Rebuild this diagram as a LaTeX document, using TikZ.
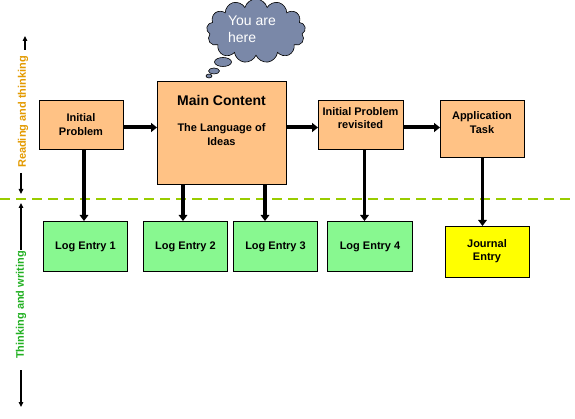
\documentclass[tikz,border=0pt]{standalone}
\usepackage{fontspec}
\setmainfont{Liberation Sans}
\usetikzlibrary{shapes.symbols,shapes.geometric,arrows.meta}
\definecolor{peach}{HTML}{FFC285}
\definecolor{lgreen}{HTML}{88F890}
\definecolor{jyellow}{HTML}{FFFF00}
\definecolor{cloudc}{HTML}{7A88A8}
\definecolor{otext}{HTML}{E39A00}
\definecolor{gtext}{HTML}{22B022}
\definecolor{dline}{HTML}{99CC00}
\tikzset{
  box/.style={draw=black, line width=1pt, inner sep=0pt, anchor=north west},
  obox/.style={box, fill=peach},
  gbox/.style={box, fill=lgreen, minimum width=84pt, minimum height=50pt, font=\bfseries\fontsize{11}{13}\selectfont},
  lbl/.style={align=center, inner sep=0pt, font=\bfseries\fontsize{11}{13.5}\selectfont},
  harrow/.style={line width=4pt, -{Triangle[length=6pt,width=9pt]}},
  varrow/.style={line width=3.5pt, -{Triangle[length=6pt,width=8.5pt]}},
  sarrow/.style={line width=1.2pt, -{Triangle[length=5pt,width=4.5pt]}},
  dashline/.style={draw=dline, line width=2pt, dash pattern=on 10pt off 6pt},
  bubble/.style={ellipse, draw=black, line width=0.6pt, fill=cloudc, inner sep=0pt}
}
\begin{document}
\begin{tikzpicture}[x=1pt,y=-1pt]
\useasboundingbox (0,0) rectangle (575,419);
% dashed divider
\coordinate (d1) at (0,199);
\coordinate (d2) at (575,199);
\draw[dashline] (d1) -- (d2);
% cloud
\node[cloud, cloud puffs=13, aspect=1.6, draw=black, line width=0.6pt, fill=cloudc, minimum width=99pt, minimum height=64pt, inner sep=0pt] (cl) at (256,31) {};
\node[bubble, minimum width=17pt, minimum height=9pt] (b1) at (223,62) {};
\node[bubble, minimum width=11pt, minimum height=6pt] (b2) at (214,71) {};
\node[bubble, minimum width=6pt, minimum height=4pt] (b3) at (209,76) {};
\node[align=left, inner sep=0pt, text=white, font=\fontsize{14}{17}\selectfont] (yt) at (252,29) {You are\\here};
% top boxes
\node[obox, minimum width=84pt, minimum height=49pt] (ip) at (39,100) {};
\node[lbl] (ipt) at (81,124.5) {Initial\\Problem};
\node[obox, minimum width=129pt, minimum height=103pt] (mc) at (157,81) {};
\node[inner sep=0pt, font=\bfseries\fontsize{14}{16}\selectfont] (mct) at (221.5,100) {Main Content};
\node[lbl, font=\bfseries\fontsize{11}{14}\selectfont] (mcs) at (221.5,135) {The Language of\\Ideas};
\node[obox, minimum width=85pt, minimum height=49pt] (rv) at (318,100) {};
\node[lbl] (rvt) at (360.5,118) {Initial Problem\\revisited};
\node[obox, minimum width=84pt, minimum height=57pt] (ap) at (440,100) {};
\node[lbl] (apt) at (482,122.5) {Application\\Task};
% bottom boxes
\node[gbox] (l1) at (43,221) {Log Entry 1};
\node[gbox] (l2) at (143,221) {Log Entry 2};
\node[gbox] (l3) at (233,221) {Log Entry 3};
\node[gbox, minimum width=85pt] (l4) at (327,221) {Log Entry 4};
\node[box, fill=jyellow, minimum width=84pt, minimum height=51pt] (je) at (445,226) {};
\node[lbl] (jet) at (487,251) {Journal\\Entry};
% horizontal arrows
\draw[harrow] ([yshift=-2.5pt]ip.east) -- ([yshift=-2.5pt]ip.east -| mc.west);
\draw[harrow] ([yshift=-2.5pt]rv.west -| mc.east) -- ([yshift=-2.5pt]rv.west);
\draw[harrow] ([yshift=-2.5pt]rv.east) -- ([yshift=-2.5pt]rv.east -| ap.west);
% vertical arrows
\draw[varrow] ([xshift=45pt]ip.south west) -- ([xshift=45pt]ip.south west |- l1.north);
\draw[varrow] ([xshift=26pt]mc.south west) -- ([xshift=26pt]mc.south west |- l2.north);
\draw[varrow] ([xshift=-22pt]mc.south east) -- ([xshift=-22pt]mc.south east |- l3.north);
\draw[varrow] ([xshift=3.5pt]rv.south) -- ([xshift=3.5pt]rv.south |- l4.north);
\draw[varrow] (ap.south) -- (ap.south |- je.north);
% side labels
\node[rotate=90, inner sep=0pt, text=otext, font=\bfseries\fontsize{11}{12}\selectfont] (rt) at (23,112) {Reading and thinking};
\node[rotate=90, inner sep=0pt, text=gtext, font=\bfseries\fontsize{11}{12}\selectfont] (gt) at (21,305) {Thinking and writing};
\coordinate (s1a) at (25,50);
\coordinate (s1b) at (25,36);
\coordinate (s2a) at (21,173);
\coordinate (s2b) at (21,194);
\coordinate (s3a) at (21,250);
\coordinate (s3b) at (21,203);
\coordinate (s4a) at (21,370);
\coordinate (s4b) at (21,407);
\draw[sarrow] (s1a) -- (s1b);
\draw[sarrow] (s2a) -- (s2b);
\draw[sarrow] (s3a) -- (s3b);
\draw[sarrow] (s4a) -- (s4b);
\end{tikzpicture}
\end{document}
